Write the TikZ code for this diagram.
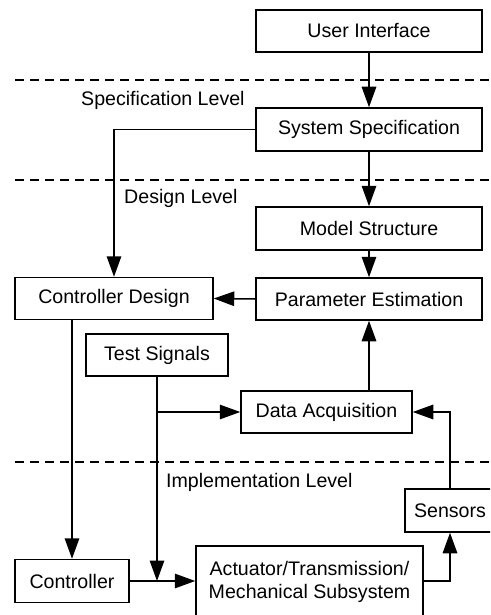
\documentclass[tikz,border=0pt]{standalone}
\usepackage{fontspec}
\setmainfont{Liberation Sans}
\usetikzlibrary{arrows.meta}
\begin{document}
\begin{tikzpicture}[x=1pt,y=-1pt,
  box/.style={draw, line width=1.5pt, inner sep=0pt, align=center,
    font=\fontsize{19.6}{22.5}\selectfont},
  conn/.style={line width=1.5pt},
  arr/.style={conn, -{Triangle[length=20.5pt,width=14.5pt]}},
  levelline/.style={line width=1.6pt, dash pattern=on 9pt off 6pt},
  lbl/.style={anchor=west, inner sep=0pt, font=\fontsize{19.6}{22.5}\selectfont}]
\useasboundingbox (0,0) rectangle (490,615);
\clip (0,0) rectangle (490,615);

% level separators
\draw[levelline] (15,80) -- (495,80);
\draw[levelline] (15,180) -- (495,180);
\draw[levelline] (15,462) -- (495,462);

% level labels
\node[lbl] (lspec) at (81,100) {Specification Level};
\node[lbl] (ldes) at (124,198) {Design Level};
\node[lbl] (limp) at (166,482) {Implementation Level};

% blocks
\node[box, minimum width=226pt, minimum height=42pt] (ui) at (369,31) {User Interface};
\node[box, minimum width=226pt, minimum height=43pt] (ss) at (369,129.5) {System Specification};
\node[box, minimum width=226pt, minimum height=43pt] (ms) at (369,228.5) {Model Structure};
\node[box, minimum width=226pt, minimum height=42pt] (pe) at (369,299) {Parameter Estimation};
\node[box, minimum width=198pt, minimum height=42pt] (cd) at (114,298.5) {Controller Design};
\node[box, minimum width=142pt, minimum height=42pt] (ts) at (157,355) {Test Signals};
\node[box, minimum width=171pt, minimum height=42pt] (da) at (326.5,412) {Data Acquisition};
\node[box, minimum width=90pt, minimum height=43pt] (sens) at (450,510.5) {Sensors};
\node[box, minimum width=114pt, minimum height=43pt] (ctrl) at (72,581) {Controller};
\node[box, minimum width=227pt, minimum height=72pt] (act) at (309.5,582)
  {Actuator/Transmission/\\Mechanical Subsystem};

% connectors
\draw[arr] (ui.south) -- (ss.north);
\draw[arr] (ss.south) -- (ms.north);
\draw[arr] (ms.south) -- (pe.north);
\draw[arr] (ss.west) -| (cd.north);
\draw[arr] (pe.west) -- (cd.east);
\draw[arr] (ctrl.north |- cd.south) -- (ctrl.north);
\draw[arr] (ctrl.east) -- (ctrl.east -| act.west);
\coordinate (tsjoin) at (ts.south |- ctrl.east);
\draw[arr] (ts.south) -- (tsjoin);
\draw[arr] (ts.south |- da.west) -- (da.west);
\draw[arr] (pe.south |- da.north) -- (pe.south);
\draw[arr] (sens.north) |- (da.east);
\draw[arr] (act.east |- ctrl.east) -| (sens.south);
\end{tikzpicture}
\end{document}
